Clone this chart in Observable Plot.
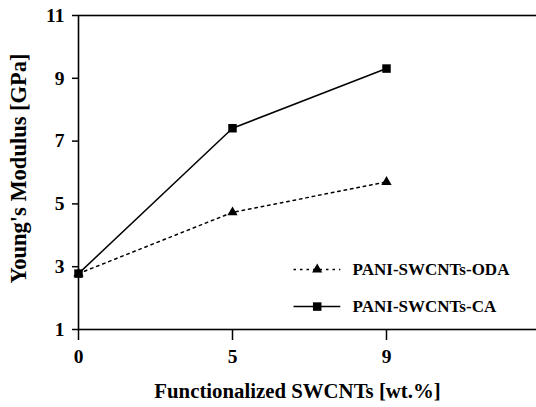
<!DOCTYPE html>
<html>
<head>
<meta charset="utf-8">
<script src="https://cdn.jsdelivr.net/npm/d3@7"></script>
<script src="https://cdn.jsdelivr.net/npm/@observablehq/plot@0.6"></script>
<style>
  html, body { margin: 0; padding: 0; background: #fff; }
  #chart svg { display: block; }
  #chart svg text { font-family: 'Liberation Serif', 'Times New Roman', serif !important; font-weight: bold; }
</style>
</head>
<body>
<div id="chart"></div>
<script>
// Data
const categories = ["0", "5", "9"];           // Functionalized SWCNTs [wt.%]
const odaValues = [2.78, 4.73, 5.70];          // PANI-SWCNTs-ODA
const caValues  = [2.78, 7.41, 9.31];          // PANI-SWCNTs-CA
const yTicks = [1, 3, 5, 7, 9, 11];
const seriesNames = ["PANI-SWCNTs-ODA", "PANI-SWCNTs-CA"];

const oda = categories.map((c, i) => ({i, c, v: odaValues[i]}));
const ca  = categories.map((c, i) => ({i, c, v: caValues[i]}));

// legend layout (in scale units)
const legendOda = [{name: seriesNames[0], y: 2.91}];
const legendCa  = [{name: seriesNames[1], y: 1.73}];
const lx1 = 1.396, lx2 = 1.70, lxm = 1.55, ltx = 1.78;

const font = "Liberation Serif";

const chart = Plot.plot({
  width: 536,
  height: 407,
  marginLeft: 78,
  marginRight: -4,
  marginTop: 15,
  marginBottom: 78,
  style: {fontFamily: font, fontWeight: "bold", fontSize: "19px", color: "black", background: "white"},
  x: {domain: [0, 3], axis: null},
  y: {domain: [1, 11], axis: null},
  marks: [
    Plot.frame({stroke: "black", strokeWidth: 1.6}),
    Plot.axisY(yTicks, {anchor: "left", tickSize: 6, tickPadding: 8, strokeWidth: 1.5, label: null, fontSize: 19.5, fontWeight: "bold", fontFamily: font}),
    Plot.axisX(categories.map((c, i) => i), {anchor: "bottom", tickSize: 11, tickPadding: 9, strokeWidth: 1.5, label: null, tickFormat: i => categories[i], fontSize: 19.5, fontWeight: "bold", fontFamily: font}),
    Plot.line(oda, {x: "i", y: "v", stroke: "black", strokeWidth: 1.5, strokeDasharray: "2.5,4"}),
    Plot.line(ca, {x: "i", y: "v", stroke: "black", strokeWidth: 1.5}),
    Plot.dot(oda, {x: "i", y: "v", symbol: "triangle", r: 3.8, fill: "black", stroke: "none"}),
    Plot.dot(ca, {x: "i", y: "v", symbol: "square", r: 4.8, fill: "black", stroke: "none"}),
    // legend
    Plot.link(legendOda, {x1: () => lx1, x2: () => lx2, y1: "y", y2: "y", stroke: "black", strokeWidth: 1.5, strokeDasharray: "2.5,4"}),
    Plot.link(legendCa, {x1: () => lx1, x2: () => lx2, y1: "y", y2: "y", stroke: "black", strokeWidth: 1.5}),
    Plot.dot(legendOda, {x: () => lxm, y: "y", symbol: "triangle", r: 3.8, fill: "black", stroke: "none"}),
    Plot.dot(legendCa, {x: () => lxm, y: "y", symbol: "square", r: 4.8, fill: "black", stroke: "none"}),
    Plot.text(legendOda.concat(legendCa), {x: () => ltx, y: "y", text: "name", textAnchor: "start", fontSize: 17, fontWeight: "bold", fontFamily: font}),
    // axis titles
    Plot.text(["Functionalized SWCNTs [wt.%]"], {frameAnchor: "bottom", textAnchor: "middle", lineAnchor: "middle", dx: -12, dy: 62, fontSize: 20.8, fontWeight: "bold", fontFamily: font}),
    Plot.text(["Young's Modulus [GPa]"], {frameAnchor: "left", textAnchor: "middle", lineAnchor: "middle", dx: -60, dy: -4, rotate: -90, fontSize: 22.5, fontWeight: "bold", fontFamily: font})
  ]
});
document.getElementById("chart").appendChild(chart);
</script>
</body>
</html>
